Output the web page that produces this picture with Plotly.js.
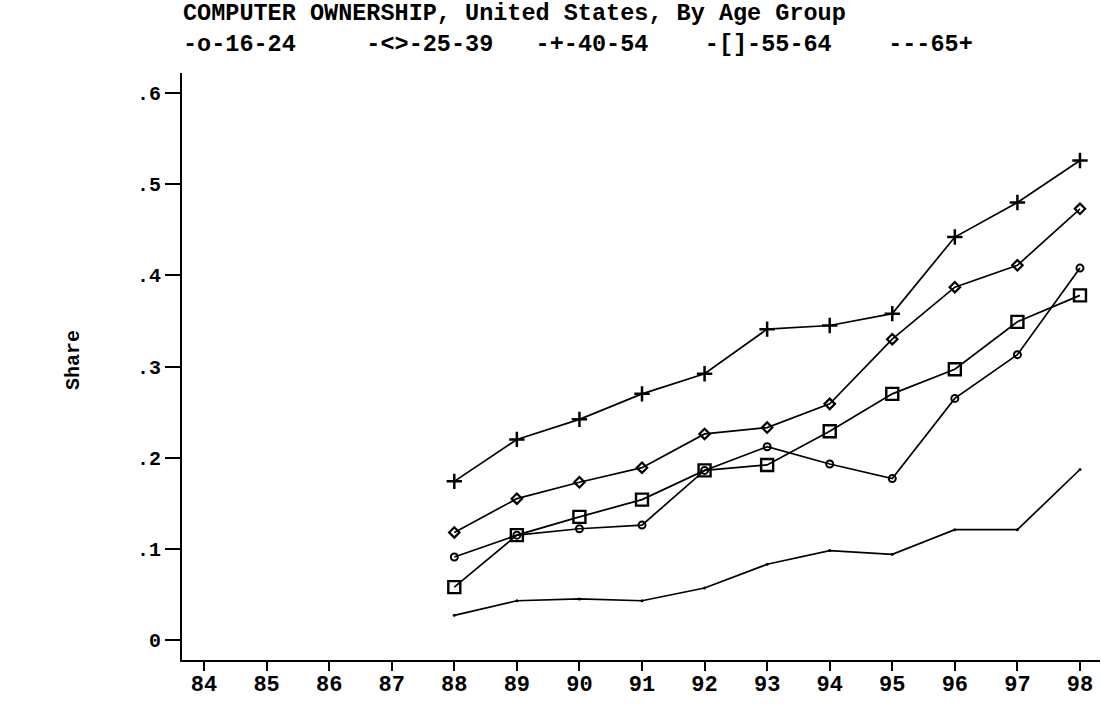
<!DOCTYPE html>
<html>
<head>
<meta charset="utf-8">
<script src="https://cdn.plot.ly/plotly-3.0.1.min.js"></script>
<style>html,body{margin:0;padding:0;background:#fff;}#chart{width:1101px;height:704px;}</style>
</head>
<body>
<div id="chart"></div>
<script>
// Data
var years = [88, 89, 90, 91, 92, 93, 94, 95, 96, 97, 98];
var age16_24 = [0.091, 0.115, 0.122, 0.126, 0.186, 0.212, 0.193, 0.177, 0.265, 0.313, 0.408];
var age25_39 = [0.118, 0.155, 0.173, 0.189, 0.226, 0.233, 0.259, 0.330, 0.387, 0.411, 0.473];
var age40_54 = [0.174, 0.220, 0.242, 0.270, 0.292, 0.341, 0.345, 0.358, 0.442, 0.480, 0.526];
var age55_64 = [0.058, 0.115, 0.135, 0.154, 0.186, 0.192, 0.229, 0.270, 0.297, 0.349, 0.378];
var age65p   = [0.027, 0.043, 0.045, 0.043, 0.057, 0.083, 0.098, 0.094, 0.121, 0.121, 0.187];
var xTickVals = [84, 85, 86, 87, 88, 89, 90, 91, 92, 93, 94, 95, 96, 97, 98];
var xTickText = ['84','85','86','87','88','89','90','91','92','93','94','95','96','97','98'];
var yTickVals = [0, 0.1, 0.2, 0.3, 0.4, 0.5, 0.6];
var yTickText = ['0', '.1', '.2', '.3', '.4', '.5', '.6'];
var titleText = 'COMPUTER OWNERSHIP, United States, By Age Group';
var legendLabels = ['-o-16-24', '-<>-25-39', '-+-40-54', '-[]-55-64', '---65+'];
var legendGaps = [5, 3, 4, 4];   // spaces between legend entries
var yTitle = 'Share';

var FONT = 'Liberation Mono, DejaVu Sans Mono, monospace';
var lineStyle = {color: '#000', width: 1.7};

function tr(y, sym, size, lw) {
  return {
    x: years, y: y, type: 'scatter', mode: 'lines+markers',
    line: lineStyle,
    marker: {symbol: sym, size: size, color: '#000', line: {color: '#000', width: lw}},
    showlegend: false, hoverinfo: 'skip'
  };
}

var data = [
  tr(age65p, 'circle', 3, 0),
  tr(age16_24, 'circle-open', 7, 2),
  tr(age55_64, 'square-open', 12, 2.4),
  tr(age25_39, 'diamond-open', 8, 2.2),
  tr(age40_54, 'cross-thin-open', 11, 2.5)
];

// plot area geometry in pixels: left 182, right 1100, top 73, bottom 660
var L = 182, R = 1100, T = 73, B = 660;
var W = R - L, H = B - T;
function px(x) { return (x - L) / W; }
function py(y) { return (B - y) / H; }

var legendLine = '';
legendLabels.forEach(function (t, i) {
  legendLine += t;
  if (i < legendGaps.length) legendLine += new Array(legendGaps[i] + 1).join('\u00A0');
});

var annotations = [
  {text: '<b>' + titleText + '<br>' + legendLine + '</b>', xref: 'paper', yref: 'paper',
   x: px(181), y: py(29), align: 'left',
   xanchor: 'left', yanchor: 'middle', showarrow: false,
   font: {family: FONT, size: 23.5, color: '#000'}},
  {text: '<b>' + yTitle + '</b>', xref: 'paper', yref: 'paper', x: px(73), y: py(360),
   xanchor: 'center', yanchor: 'middle', showarrow: false, textangle: -90,
   font: {family: FONT, size: 20, color: '#000'}}
];

var layout = {
  width: 1101, height: 704,
  margin: {l: L, r: 1101 - R, t: T, b: 704 - B, pad: 0},
  paper_bgcolor: '#fff', plot_bgcolor: '#fff',
  showlegend: false,
  xaxis: {
    range: [83.648, 98.32], showgrid: false, zeroline: false,
    showline: true, linecolor: '#000', linewidth: 2,
    ticks: 'outside', ticklen: 9, tickwidth: 2, tickcolor: '#000',
    tickvals: xTickVals, ticktext: xTickText.map(function (s) { return '<b>' + s + '</b>'; }),
    ticklabelstandoff: -6,
    tickfont: {family: FONT, size: 22, color: '#000'}
  },
  yaxis: {
    range: [-0.022, 0.622], showgrid: false, zeroline: false,
    showline: true, linecolor: '#000', linewidth: 2,
    ticks: 'outside', ticklen: 15, tickwidth: 2, tickcolor: '#000',
    tickvals: yTickVals, ticktext: yTickText.map(function (s) { return '<b>' + s + '</b>'; }),
    tickfont: {family: FONT, size: 20, color: '#000'}
  },
  annotations: annotations
};

Plotly.newPlot('chart', data, layout, {displayModeBar: false, staticPlot: true});
</script>
</body>
</html>
